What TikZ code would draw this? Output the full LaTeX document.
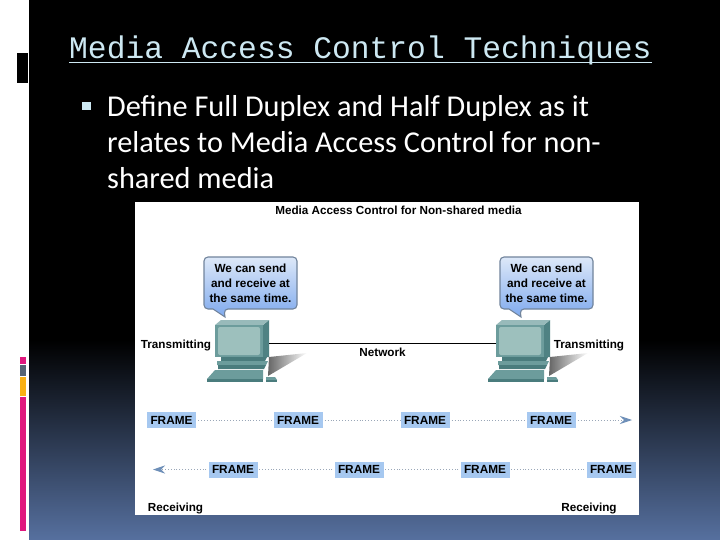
\documentclass[tikz,border=0pt]{standalone}
\usepackage{fontspec}
\usetikzlibrary{arrows.meta,fadings}
\setmainfont{Carlito}
\newfontfamily\monofnt{Liberation Mono}
\newfontfamily\labelfnt{Liberation Sans}
\definecolor{titleblue}{HTML}{CDE8F2}
\definecolor{slateblue}{HTML}{56709F}
\definecolor{barpink}{HTML}{E0187E}
\definecolor{bargray}{HTML}{566474}
\definecolor{barorange}{HTML}{F9B115}
\definecolor{framefill}{HTML}{A6C8F0}
\definecolor{framearrow}{HTML}{6E8FB8}
\definecolor{dotgray}{HTML}{9AA7B8}
\definecolor{pcbody}{HTML}{6C9C9C}
\definecolor{pcside}{HTML}{4F8283}
\definecolor{pcdark}{HTML}{4A7C7D}
\definecolor{pcscreen}{HTML}{9DC0BD}
\definecolor{bubbleedge}{HTML}{71849C}
\definecolor{bubbletop}{HTML}{DDE8F8}
\definecolor{bubblemid}{HTML}{B5CEF3}
\definecolor{bubblelow}{HTML}{7FAAEE}
\tikzset{
  framebox/.style={fill=framefill,minimum width=49pt,minimum height=16pt,inner sep=0pt,font=\labelfnt\bfseries\fontsize{11.8}{14}\selectfont},
  flowline/.style={dotted,dotgray,line width=0.9pt,shorten <=2pt},
  flowtip/.style={-{Stealth[length=12pt,width=8pt,inset=4pt,framearrow]}},
  difflabel/.style={font=\labelfnt\bfseries\fontsize{11.7}{14}\selectfont,inner sep=0pt},
  computer/.pic={
    \fill[black!60,path fading=east] (54,37) -- (92,33) -- (53,56) -- cycle;
    \fill[pcside] (48,5) -- (54,0) -- (54,37) -- (48,37) -- cycle;
    \fill[pcbody!70!white] (0,5) -- (6,0) -- (54,0) -- (48,5) -- cycle;
    \fill[pcbody] (0,5) rectangle (48,37);
    \fill[pcscreen,rounded corners=2pt] (3,7) rectangle (45,35);
    \coordinate (portout) at (54,23);
    \coordinate (portin) at (0,23);
    \fill[pcdark] (6,37) -- (52,37) -- (50,41) -- (6,41) -- cycle;
    \fill[pcbody] (2,41) -- (53,41) -- (51,45) -- (2,45) -- cycle;
    \fill[pcdark] (3,45) -- (51,45) -- (49,49) -- (3,49) -- cycle;
    \fill[pcbody] (0,50) -- (48,50) -- (48,59) -- (-8,59) -- cycle;
    \fill[pcdark] (-8,59) rectangle (48,62);
    \fill[pcbody] (51,57) -- (60,57) -- (62,60) -- (51,60) -- cycle;
    \fill[pcdark] (51,60) rectangle (62,62);
  },
  bubble/.pic={
    \draw[bubbleedge,line width=1.1pt,rounded corners=4pt,top color=bubbletop,middle color=bubblemid,bottom color=bubblelow]
      (0,0) -- (93,0) -- (93,52) -- (20,52) [sharp corners] -- (21,60) -- (9,52) [rounded corners=4pt] -- (0,52) -- cycle;
    \node[align=center,inner sep=0pt,font=\labelfnt\bfseries\fontsize{11.8}{15}\selectfont] (txt) at (46.5,26) {We can send\\and receive at\\the same time.};
  }
}
\begin{document}
\begin{tikzpicture}[x=1pt,y=-1pt]
  \useasboundingbox (0,0) rectangle (720,540);

  % slide background
  \fill[white] (0,0) rectangle (720,540);
  \fill[black] (29,0) rectangle (720,340);
  \shade[top color=black,bottom color=slateblue] (29,340) rectangle (720,540);

  % side marks
  \fill[black] (17,53) rectangle (28,83);
  \fill[barpink] (20,357) rectangle (26,364);
  \fill[bargray] (20,365) rectangle (26,376);
  \fill[barorange] (20,377) rectangle (26,396);
  \fill[barpink] (20,397) rectangle (26,531);

  % heading and bullet
  \node[anchor=base west,inner sep=0pt,text=titleblue,font=\monofnt\fontsize{31.3}{36}\selectfont] (heading) at (69,59) {Media Access Control Techniques};
  \draw[titleblue,line width=1.3pt] ([yshift=-3.5pt]heading.base west) -- ([yshift=-3.5pt]heading.base east);
  \node[fill=titleblue,minimum size=8.5pt,inner sep=0pt] (mark) at (86.5,106) {};
  \node[anchor=north west,align=left,inner sep=0pt,text=white,font=\fontsize{30.3}{36}\selectfont] (body) at (107,95.5) {Define Full Duplex and Half Duplex as it\\relates to Media Access Control for non-\\shared media};

  % picture panel
  \fill[white] (135,202) rectangle (639,515);
  \node[difflabel] (panelname) at (398.5,210.500) {Media Access Control for Non-shared media};

  \pic (lpc) at (215,320) {computer};
  \pic (rpc) at (496,320) {computer};
  \draw[semithick] (lpcportout) -- (rpcportin) node[midway,below=5pt,difflabel] (network) {Network};
  \pic (lbub) at (204,257) {bubble};
  \pic (rbub) at (500,257) {bubble};

  \node[difflabel] (ltrans) at (176,345) {Transmitting};
  \node[difflabel] (rtrans) at (589,345) {Transmitting};
  \node[difflabel] (lrecv) at (175.5,508) {Receiving};
  \node[difflabel] (rrecv) at (589,508) {Receiving};

  % frames sent
  \node[framebox] (fa) at (171.5,420) {FRAME};
  \node[framebox] (fb) at (298,420) {FRAME};
  \node[framebox] (fc) at (425,420) {FRAME};
  \node[framebox] (fd) at (551,420) {FRAME};
  \coordinate (fend) at (632,420);
  \draw[flowline] (fa) -- (fb);
  \draw[flowline] (fb) -- (fc);
  \draw[flowline] (fc) -- (fd);
  \draw[flowline,flowtip] (fd) -- (fend);

  % frames received
  \node[framebox] (ga) at (233,469.5) {FRAME};
  \node[framebox] (gb) at (359,469.5) {FRAME};
  \node[framebox] (gc) at (485,469.5) {FRAME};
  \node[framebox] (gd) at (611,469.5) {FRAME};
  \coordinate (gend) at (153,469.5);
  \draw[flowline] (gd) -- (gc);
  \draw[flowline] (gc) -- (gb);
  \draw[flowline] (gb) -- (ga);
  \draw[flowline,flowtip] (ga) -- (gend);

\end{tikzpicture}
\end{document}
